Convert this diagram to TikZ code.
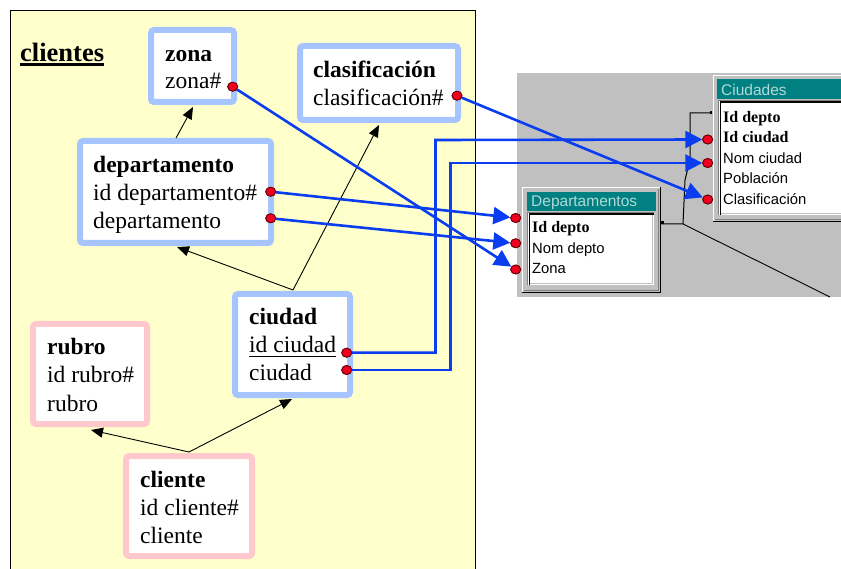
\documentclass[tikz,border=0pt]{standalone}
\usepackage{fontspec}
\setmainfont{Liberation Serif}
\newfontfamily\winfont{Liberation Sans}
\usetikzlibrary{arrows.meta,calc,shapes.geometric}

\definecolor{panelyellow}{HTML}{FFFFCC}
\definecolor{entblue}{HTML}{A6C4FF}
\definecolor{entpink}{HTML}{FFC8CC}
\definecolor{linkblue}{HTML}{0A3CF0}
\definecolor{dotred}{HTML}{F00020}
\definecolor{wingray}{HTML}{C0C0C0}
\definecolor{windark}{HTML}{808080}
\definecolor{winteal}{HTML}{008080}
\definecolor{wintitle}{HTML}{B4D8D8}

\tikzset{
  entity/.style={draw=#1, line width=6pt, fill=white, rounded corners=3pt, inner sep=0pt},
  ename/.style={anchor=base west, inner sep=0pt, font=\fontsize{23.5}{28}\selectfont\bfseries},
  efield/.style={anchor=base west, inner sep=0pt, font=\fontsize{23.5}{28}\selectfont},
  wtitle/.style={anchor=base west, inner sep=0pt, text=wintitle, font=\winfont\fontsize{15.5}{18}\selectfont},
  wfield/.style={anchor=base west, inner sep=0pt, font=\winfont\fontsize{14.8}{18}\selectfont},
  wkey/.style={anchor=base west, inner sep=0pt, font=\fontsize{16}{18}\selectfont\bfseries},
  keydot/.style={ellipse, draw=black!60!red, fill=dotred, line width=0.8pt, minimum width=10pt, minimum height=9pt, inner sep=0pt},
  rel/.style={draw=black, line width=0.9pt, -{Triangle[length=12pt,width=10pt]}},
  link/.style={draw=linkblue, line width=2.6pt, -{Triangle[length=17pt,width=17pt]}},
  tablelink/.style={draw=black, line width=1pt},
}

\begin{document}
\begin{tikzpicture}[x=1pt,y=-1pt]
\useasboundingbox (0,0) rectangle (841,569);

% ---------- logical model panel ----------
\fill[panelyellow] (10,11) rectangle (475,569);
\draw[line width=1pt] (10,570) -- (10,11) -- (475,11) -- (475,570);

\node[ename, font=\fontsize{26.5}{30}\selectfont\bfseries] (clientes) at (20,62) {clientes};
\draw[line width=2.2pt] ($(clientes.base west)+(0,2.5)$) -- ($(clientes.base east)+(0,2.5)$);

% entity boxes
\node[entity=entblue, minimum width=83pt, minimum height=72pt] (zona) at (192.5,66) {};
\node[entity=entblue, minimum width=158pt, minimum height=74pt] (clasif) at (379,83) {};
\node[entity=entblue, minimum width=191pt, minimum height=102pt] (depto) at (175.5,192) {};
\node[entity=entblue, minimum width=115pt, minimum height=101pt] (ciudad) at (292.5,344.5) {};
\node[entity=entpink, minimum width=114pt, minimum height=100pt] (rubro) at (90,374) {};
\node[entity=entpink, minimum width=126pt, minimum height=100pt] (cliente) at (189,506) {};

% entity contents
\node[ename] (zonaN) at (165,62) {zona};
\node[efield] (zonaF1) at (165,89) {zona\#};

\node[ename] (clasifN) at (313,78) {clasificación};
\node[efield] (clasifF1) at (313,106) {clasificación\#};

\node[ename] (deptoN) at (93,173) {departamento};
\node[efield] (deptoF1) at (93,201) {id departamento\#};
\node[efield] (deptoF2) at (93,229) {departamento};

\node[ename] (ciudadN) at (249,325) {ciudad};
\node[efield] (ciudadF1) at (249,353) {id ciudad};
\draw[line width=1.6pt] ($(ciudadF1.base west)+(0,3.5)$) -- ($(ciudadF1.base east)+(0,3.5)$);
\node[efield] (ciudadF2) at (249,381) {ciudad};

\node[ename] (rubroN) at (47,355) {rubro};
\node[efield] (rubroF1) at (47,383) {id rubro\#};
\node[efield] (rubroF2) at (47,411) {rubro};

\node[ename] (clienteN) at (140,487) {cliente};
\node[efield] (clienteF1) at (140,515) {id cliente\#};
\node[efield] (clienteF2) at (140,543) {cliente};

% dependency arrows
\coordinate (ciuTop) at (293,290);
\coordinate (cliTop) at (189,452);
\draw[rel] ($(depto.north west)+(99,0)$) -- ($(zona.south west)+(45,2)$);
\draw[rel] (ciuTop) -- ($(depto.south west)+(100,1)$);
\draw[rel] (ciuTop) -- ($(clasif.south west)+(82,2)$);
\draw[rel] (cliTop) -- ($(rubro.south west)+(61,3)$);
\draw[rel] (cliTop) -- ($(ciudad.south west)+(60,1)$);

% key dots of the logical model
\node[keydot] (dZona) at (232.7,86.7) {};
\node[keydot] (dClasif) at (457,95.7) {};
\node[keydot] (dIdDep) at (270.7,191.7) {};
\node[keydot] (dDep) at (270.7,218.3) {};
\node[keydot] (dIdCiu) at (346.7,352.7) {};
\node[keydot] (dCiu) at (346.7,370) {};

% ---------- database tables panel ----------
\fill[wingray] (517,73) rectangle (841,297);

% Departamentos table window
\fill[wingray] (522,187) rectangle (661,293);
\draw[white, line width=1.2pt] (522.6,292) -- (522.6,187.6) -- (660,187.6);
\draw[black, line width=1.2pt] (522,292.4) -- (660.4,292.4) -- (660.4,187);
\draw[windark, line width=1pt] (524,290.8) -- (658.8,290.8) -- (658.8,189);
\fill[winteal] (527,192) rectangle (656,211);
\node[wtitle] (depTitle) at (531,207) {Departamentos};
\fill[white] (527,212) rectangle (654,285);
\draw[windark, line width=1pt] (527.5,285) -- (527.5,212.5) -- (654,212.5);
\draw[black, line width=1.6pt] (529.3,285) -- (529.3,214) -- (654,214);
\draw[wingray, line width=1.2pt] (530,283.6) -- (652.6,283.6) -- (652.6,214.8);
\node[wkey] (depIdDepto) at (532,233) {Id depto};
\node[wfield] (depNom) at (532,254) {Nom depto};
\node[wfield] (depZona) at (532,274) {Zona};

% Ciudades table window
\fill[wingray] (713,75) rectangle (850,221);
\draw[white, line width=1.2pt] (713.6,221) -- (713.6,75.6) -- (850,75.6);
\draw[black, line width=1.2pt] (713,221.4) -- (850,221.4);
\draw[windark, line width=1pt] (715,219.8) -- (850,219.8);
\fill[winteal] (717,79) rectangle (850,99);
\node[wtitle] (ciuTitle) at (721,96) {Ciudades};
\fill[white] (718,100) rectangle (850,215);
\draw[windark, line width=1pt] (718.5,215) -- (718.5,100.5) -- (850,100.5);
\draw[black, line width=1.6pt] (720.3,215) -- (720.3,102) -- (850,102);
\draw[wingray, line width=1.2pt] (721,213.6) -- (850,213.6);
\node[wkey] (ciuIdDepto) at (723,123) {Id depto};
\node[wkey] (ciuIdCiu) at (723,143) {Id ciudad};
\node[wfield] (ciuNom) at (723,164) {Nom ciudad};
\node[wfield] (ciuPob) at (723,184) {Población};
\node[wfield] (ciuClasif) at (723,205) {Clasificación};

% relationship line between the two tables
\coordinate (relDep) at (661,224);
\coordinate (relCiu) at (712,113);
\coordinate (relOut) at (830,297);
\draw[tablelink] (relDep) -- ++(22,0) coordinate (relBend) -- ++(2,-44) -- ++(5,-20) |- (relCiu);
\draw[tablelink, line width=0.9pt] (relBend) -- (relOut);
\fill (relDep) rectangle ++(2.5,-3);
\fill (relCiu) ++(-2.5,-1.5) rectangle ++(2.5,3);

% key dots of the tables
\node[keydot] (tIdDep) at (515.7,218) {};
\node[keydot] (tNomDep) at (515.7,243.3) {};
\node[keydot] (tZona) at (515.7,269.5) {};
\node[keydot] (tIdCiu) at (707.7,139.5) {};
\node[keydot] (tNomCiu) at (707.7,163) {};
\node[keydot] (tClasif) at (707.7,199.5) {};

% ---------- mapping of fields to table columns ----------
\coordinate (upIdCiu) at (435.5,140);
\coordinate (upCiu) at (450.5,163);
\draw[link] (dZona) -- (tZona);
\draw[link] (dClasif) -- (tClasif);
\draw[link] (dIdDep) -- (tIdDep);
\draw[link] (dDep) -- (tNomDep);
\draw[link] (dIdCiu.east) -| (upIdCiu) -- (tIdCiu.west);
\draw[link] (dCiu.east) -| (upCiu) -- (tNomCiu.west);

% redraw the dots above the connectors
\foreach \d in {dZona,dClasif,dIdDep,dDep,dIdCiu,dCiu,tIdDep,tNomDep,tZona,tIdCiu,tNomCiu,tClasif}
  \node[keydot] at (\d.center) {};
\end{tikzpicture}
\end{document}
